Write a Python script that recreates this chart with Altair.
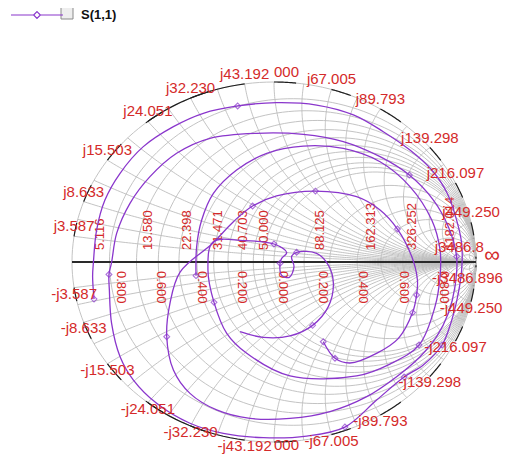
import altair as alt
import numpy as np
import pandas as pd

# ---------------- data ----------------
# S(1,1) trace as reflection coefficient (real, imaginary)
S11_A_RE = [-0.891, -0.898, -0.894, -0.878, -0.837, -0.762, -0.647, -0.498, -0.350, -0.180,
            0.013, 0.211, 0.393, 0.541, 0.673, 0.781, 0.858, 0.904, 0.929, 0.929,
            0.909, 0.875, 0.832, 0.739, 0.644, 0.508, 0.351, 0.162, -0.053, -0.251,
            -0.416, -0.581, -0.696, -0.762, -0.804, -0.815, -0.817,
            -0.804, -0.779, -0.713, -0.614, -0.482, -0.317, -0.086, 0.145, 0.343, 0.525,
            0.670, 0.789, 0.863, 0.904, 0.896, 0.863, 0.805, 0.723, 0.607, 0.459,
            0.277, 0.079, -0.119, -0.284, -0.416, -0.498, -0.531, -0.515, -0.465, -0.302,
            -0.201, -0.106, 0.013, 0.205, 0.409, 0.525, 0.611, 0.682, 0.710, 0.706,
            0.686, 0.616, 0.510, 0.376, 0.302, 0.244]
S11_A_IM = [-0.206, -0.081, -0.002, 0.178, 0.344, 0.493, 0.641, 0.752, 0.826, 0.867,
            0.885, 0.872, 0.817, 0.724, 0.622, 0.511, 0.381, 0.233, 0.104, -0.044,
            -0.193, -0.341, -0.461, -0.572, -0.639, -0.767, -0.917, -0.967, -0.976, -0.952,
            -0.896, -0.785, -0.656, -0.526, -0.341, -0.156, -0.069,
            -0.002, 0.159, 0.326, 0.474, 0.604, 0.687, 0.715, 0.709, 0.669, 0.585,
            0.483, 0.344, 0.196, 0.030, -0.137, -0.285, -0.415, -0.526, -0.637, -0.748,
            -0.831, -0.869, -0.869, -0.822, -0.730, -0.600, -0.415, -0.230, -0.056, 0.106,
            0.224, 0.311, 0.367, 0.394, 0.363, 0.289, 0.183, 0.030, -0.100, -0.183,
            -0.281, -0.424, -0.506, -0.561, -0.535, -0.443]
S11_A_MARKERS = [0, 9, 22, 24, 26, 36, 47, 50, 63, 68, 70, 73, 76, 77, 81, 82]

S11_B_RE = [-0.386, -0.383, -0.358, -0.300, -0.185, -0.036, 0.145, 0.343, 0.525, 0.673,
            0.781, 0.822, 0.822, 0.797, 0.718, 0.574, 0.409, 0.079, -0.135, -0.234,
            -0.297, -0.327, -0.302, -0.152, 0.000, 0.063, 0.038, 0.030, 0.038, 0.076,
            0.099, 0.087, 0.112, 0.211, 0.269, 0.294, 0.269, 0.191, 0.079, -0.053, -0.168]
S11_B_IM = [-0.076, 0.085, 0.233, 0.381, 0.511, 0.604, 0.644, 0.631, 0.557, 0.419,
            0.233, 0.067, -0.081, -0.248, -0.461, -0.567, -0.633, -0.633, -0.507, -0.396,
            -0.224, -0.044, 0.111, 0.119, 0.100, 0.052, 0.020, -0.007, -0.074, -0.085,
            -0.026, 0.030, 0.054, 0.048, -0.017, -0.119, -0.248, -0.352, -0.411, -0.419, -0.387]
S11_B_MARKERS = [0, 14, 20, 24, 27, 32, 37]

SERIES = "S(1,1)"
Z0 = 50.0

# resistance labels (ohm) above the real axis
RES_LABELS = ["5.116", "13.580", "22.398", "31.471", "40.703", "50.000",
              "88.125", "162.313", "326.252", "1182.014"]
RES_VALUES = [5.116, 13.580, 22.398, 31.471, 40.703, 50.000, 88.125, 162.313, 326.252, 1182.014]
# |Γ| labels below the real axis
MAG_LABELS = ["0.800", "0.600", "0.400", "0.200", "0.000", "0.200", "0.400", "0.600", "0.800"]
MAG_VALUES = [-0.8, -0.6, -0.4, -0.2, 0.0, 0.2, 0.4, 0.6, 0.8]
# reactance labels (ohm) around the rim
REACT_LEFT = [3.587, 8.633, 15.503, 24.051, 32.230, 43.192]
REACT_RIGHT = [50.000, 67.005, 89.793, 139.298, 216.097, 449.250, 3486.896]
UP_LEFT_TXT = ["j3.587", "j8.633", "j15.503", "j24.051", "j32.230", "j43.192"]
UP_RIGHT_TXT = ["000", "j67.005", "j89.793", "j139.298", "j216.097", "j449.250", "j3486.8"]
LO_LEFT_TXT = ["-j3.587", "-j8.633", "-j15.503", "-j24.051", "-j32.230", "-j43.192"]
LO_RIGHT_TXT = ["000", "-j67.005", "-j89.793", "-j139.298", "-j216.097", "-j449.250", "-j3486.896"]

# grid circles (normalised)
R_GRID = [0.0, 0.1023, 0.19, 0.2716, 0.36, 0.448, 0.54, 0.629, 0.72, 0.814, 0.9, 1.0,
          1.35, 1.7625, 2.4, 3.246, 4.5, 6.525, 12.0, 23.64]
X_GRID = [0.0717, 0.12, 0.1727, 0.24, 0.31, 0.40, 0.481, 0.56, 0.6446, 0.75, 0.8638, 1.0,
          1.16, 1.34, 1.55, 1.796, 2.2, 2.786, 3.4, 4.32, 6.0, 8.985, 15.0, 30.0, 69.74]

PURPLE = "#8a36cc"
RED = "#d42a2a"
GRID = "#bcbcbc"
FONT = "Liberation Sans"


def gamma(z):
    return (z - 1) / (z + 1)


# ---------------- tables ----------------
rows = []
for seg, (re, im, mk) in enumerate([(S11_A_RE, S11_A_IM, S11_A_MARKERS),
                                    (S11_B_RE, S11_B_IM, S11_B_MARKERS)]):
    for i, (a, b) in enumerate(zip(re, im)):
        rows.append({"gx": a, "gy": b, "seg": seg, "i": i, "mark": i in mk, "series": SERIES})
trace_df = pd.DataFrame(rows)
mark_df = trace_df[trace_df["mark"]]

grid_rows = []
gid = 0
phi = np.linspace(-np.pi / 2 + 0.002, np.pi / 2 - 0.002, 181)
for r in R_GRID:
    g = gamma(r + 1j * np.tan(phi))
    for i, v in enumerate(g):
        grid_rows.append({"gx": round(v.real, 4), "gy": round(v.imag, 4), "gid": gid, "i": i})
    gid += 1
rr = np.tan(np.linspace(0, np.pi / 2 - 0.002, 151))
for x in X_GRID:
    for s in (1, -1):
        g = gamma(rr + 1j * s * x)
        for i, v in enumerate(g):
            grid_rows.append({"gx": round(v.real, 4), "gy": round(v.imag, 4), "gid": gid, "i": i})
        gid += 1
grid_df = pd.DataFrame(grid_rows)


def theta(X):
    return np.pi - 2 * np.arctan(X / Z0)


# black rim arcs next to the reactance labels
arc_rows = []
aid = 0
for lst, last in ((REACT_LEFT, np.pi), (REACT_RIGHT, 0.0)):
    th = [theta(v) for v in lst] + [last]
    for k in range(len(lst)):
        t0, t1 = th[k], th[k] + 0.38 * (th[k + 1] - th[k])
        for sgn in (1, -1):
            tt = np.linspace(t0, t1, 16)
            for i, t in enumerate(tt):
                arc_rows.append({"gx": np.cos(t), "gy": sgn * np.sin(t), "aid": aid, "i": i})
            aid += 1
arc_df = pd.DataFrame(arc_rows)

res_df = pd.DataFrame({"gx": [(R - Z0) / (R + Z0) for R in RES_VALUES], "gy": 0.0, "t": RES_LABELS})
mag_df = pd.DataFrame({"gx": MAG_VALUES, "gy": 0.0, "t": MAG_LABELS})


def rim(values, texts, sign):
    g = [gamma(1j * sign * v / Z0) for v in values]
    return pd.DataFrame({"gx": [v.real for v in g], "gy": [v.imag for v in g], "t": texts})


up_df = rim(REACT_LEFT + REACT_RIGHT[1:6], UP_LEFT_TXT + UP_RIGHT_TXT[1:6], 1)
lo_df = rim(REACT_LEFT + REACT_RIGHT[1:6], LO_LEFT_TXT + LO_RIGHT_TXT[1:6], -1)
up0_df = rim([REACT_RIGHT[0]], [UP_RIGHT_TXT[0]], 1)
lo0_df = rim([REACT_RIGHT[0]], [LO_RIGHT_TXT[0]], -1)
upend_df = rim([REACT_RIGHT[-1]], [UP_RIGHT_TXT[-1]], 1)
loend_df = rim([REACT_RIGHT[-1]], [LO_RIGHT_TXT[-1]], -1)
inf_df = pd.DataFrame({"gx": [1.0], "gy": [0.0], "t": ["\u221e"]})
axis_df = pd.DataFrame({"gx": [-1.0], "gx2": [1.0], "gy": [0.0]})

# ---------------- chart ----------------
sx = alt.Scale(domain=[-1, 1], nice=False, zero=False)
sy = alt.Scale(domain=[-1, 1], nice=False, zero=False)
X = alt.X("gx:Q", scale=sx, axis=None)
Y = alt.Y("gy:Q", scale=sy, axis=None)

grid = alt.Chart(grid_df).mark_line(color=GRID, strokeWidth=0.9).encode(
    x=X, y=Y, detail="gid:N", order="i:Q")
arcs = alt.Chart(arc_df).mark_line(color="#1e1e1e", strokeWidth=1.2).encode(
    x=X, y=Y, detail="aid:N", order="i:Q")
axis_line = alt.Chart(axis_df).mark_rule(color="#2a2a2a", strokeWidth=2).encode(
    x=X, x2="gx2:Q", y=Y)

legend_symbol = "M-1,0H-0.13M0.13,0H1M0,-0.13L0.13,0L0,0.13L-0.13,0Z"
trace = alt.Chart(trace_df).mark_line(strokeWidth=1.3, interpolate="catmull-rom").encode(
    x=X, y=Y, detail="seg:N", order="i:Q",
    color=alt.Color("series:N", scale=alt.Scale(domain=[SERIES], range=[PURPLE]),
                    legend=alt.Legend(title=None, orient="none", legendX=-62, legendY=-94,
                                      symbolType=legend_symbol, symbolSize=2704,
                                      symbolStrokeWidth=1.2, symbolFillColor="transparent",
                                      labelFont=FONT, labelFontSize=13, labelFontWeight="bold",
                                      labelColor="#111", labelOffset=17, padding=0)))
markers = alt.Chart(mark_df).mark_point(shape="diamond", size=34, filled=False,
                                        color=PURPLE, strokeWidth=1.1).encode(x=X, y=Y)

checkbox = alt.Chart(pd.DataFrame({"a": [0]})).mark_rect(
    fill="#eeeeee", stroke="#8a8a8a", strokeWidth=1).encode(
    x=alt.value(-11), x2=alt.value(1), y=alt.value(-75), y2=alt.value(-63))

txt = dict(font=FONT, color=RED)
res_txt = alt.Chart(res_df).mark_text(angle=270, align="left", baseline="bottom", dx=12, dy=-3,
                                      fontSize=13, **txt).encode(x=X, y=Y, text="t:N")
mag_txt = alt.Chart(mag_df).mark_text(angle=90, align="left", baseline="bottom", dx=9, dy=-1.5,
                                      fontSize=13, **txt).encode(x=X, y=Y, text="t:N")
up_txt = alt.Chart(up_df).mark_text(align="center", baseline="bottom", dy=-2,
                                    fontSize=15, **txt).encode(x=X, y=Y, text="t:N")
lo_txt = alt.Chart(lo_df).mark_text(align="center", baseline="top", dy=-1,
                                    fontSize=15, **txt).encode(x=X, y=Y, text="t:N")
up0_txt = alt.Chart(up0_df).mark_text(align="left", baseline="bottom", dy=-2,
                                      fontSize=15, **txt).encode(x=X, y=Y, text="t:N")
lo0_txt = alt.Chart(lo0_df).mark_text(align="left", baseline="top", dy=-4,
                                      fontSize=15, **txt).encode(x=X, y=Y, text="t:N")
upend_txt = alt.Chart(upend_df).mark_text(align="right", baseline="bottom", dx=8, dy=-2,
                                          fontSize=15, **txt).encode(x=X, y=Y, text="t:N")
loend_txt = alt.Chart(loend_df).mark_text(align="right", baseline="top", dx=27, dy=4,
                                          fontSize=15, **txt).encode(x=X, y=Y, text="t:N")
inf_txt = alt.Chart(inf_df).mark_text(align="center", baseline="middle", dx=16, dy=-7,
                                      fontSize=22, **txt).encode(x=X, y=Y, text="t:N")

chart = alt.layer(
    grid, arcs, axis_line, res_txt, mag_txt, trace, markers,
    up_txt, lo_txt, up0_txt, lo0_txt, upend_txt, loend_txt, inf_txt, checkbox
).properties(
    width=404, height=360,
    autosize=alt.AutoSizeParams(type="none"),
    padding={"left": 64, "top": 74, "right": 30, "bottom": 12},
    background="white",
).configure_view(stroke=None)

chart.save("out.html", embed_options={"renderer": "svg", "actions": False})
